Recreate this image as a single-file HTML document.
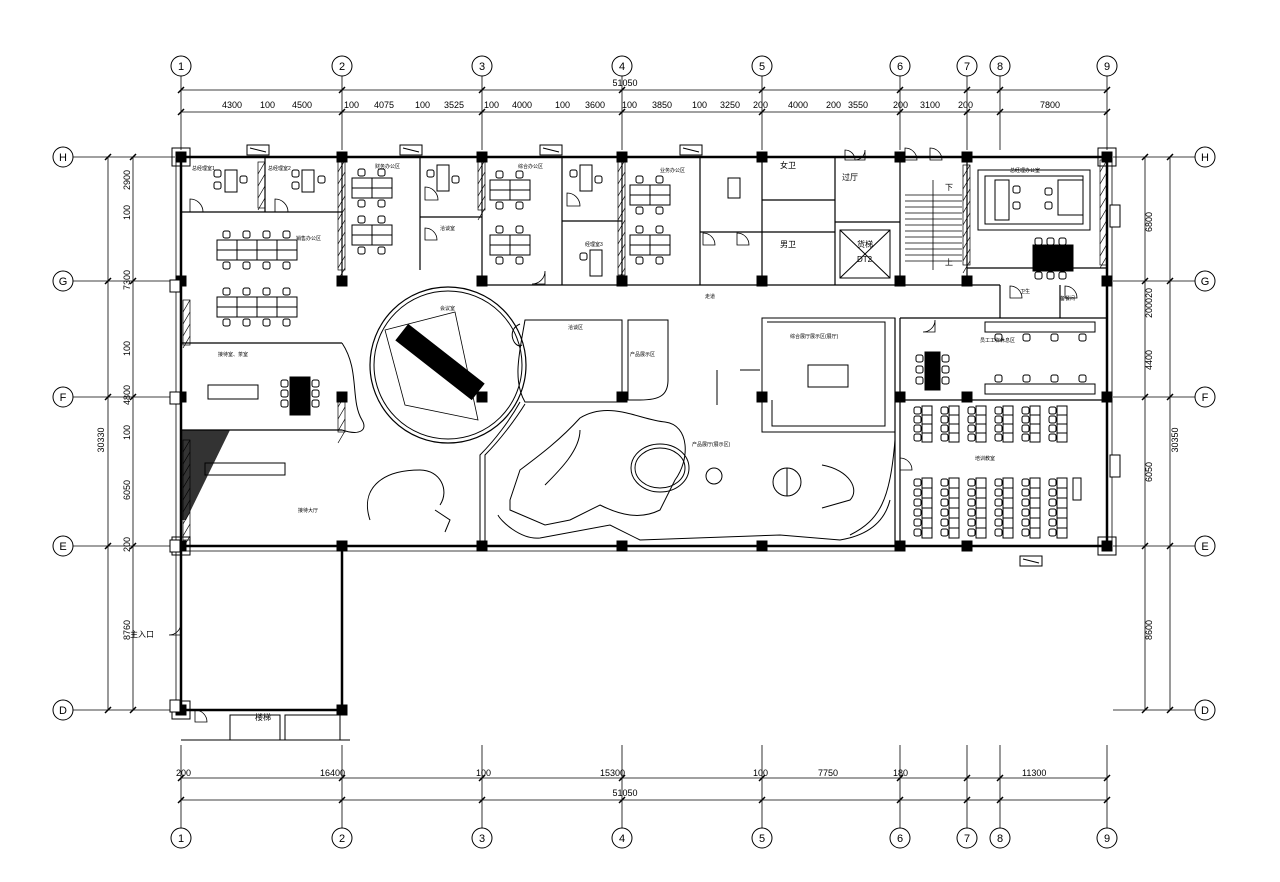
<!DOCTYPE html>
<html><head><meta charset="utf-8"><style>
html,body{margin:0;padding:0;background:#fff}
svg{display:block}
text{font-family:"Liberation Sans","Noto Sans CJK SC",sans-serif;fill:#000}
</style></head><body>
<svg id="s" width="1280" height="882" viewBox="0 0 1280 882" xmlns="http://www.w3.org/2000/svg" stroke="#000" fill="none" stroke-width="1">
<g stroke-width="0.8">
<line x1="181" y1="90" x2="1107" y2="90"/>
<line x1="181" y1="112" x2="1107" y2="112"/>
<line x1="181" y1="778" x2="1107" y2="778"/>
<line x1="181" y1="800" x2="1107" y2="800"/>
<line x1="108" y1="157" x2="108" y2="710"/>
<line x1="133" y1="157" x2="133" y2="710"/>
<line x1="1145" y1="157" x2="1145" y2="710"/>
<line x1="1170" y1="157" x2="1170" y2="710"/>
</g>
<g font-size="9" stroke="none">
<text x="625" y="86" text-anchor="middle">51050</text>
<text x="625" y="796" text-anchor="middle">51050</text>
<text x="222" y="108">4300</text><text x="260" y="108">100</text><text x="292" y="108">4500</text><text x="344" y="108">100</text>
<text x="374" y="108">4075</text><text x="415" y="108">100</text><text x="444" y="108">3525</text><text x="484" y="108">100</text>
<text x="512" y="108">4000</text><text x="555" y="108">100</text><text x="585" y="108">3600</text><text x="622" y="108">100</text>
<text x="652" y="108">3850</text><text x="692" y="108">100</text><text x="720" y="108">3250</text><text x="753" y="108">200</text>
<text x="788" y="108">4000</text><text x="826" y="108">200</text><text x="848" y="108">3550</text><text x="893" y="108">200</text>
<text x="920" y="108">3100</text><text x="958" y="108">200</text><text x="1040" y="108">7800</text>
<text x="176" y="776">200</text><text x="320" y="776">16400</text><text x="476" y="776">100</text><text x="600" y="776">15300</text>
<text x="753" y="776">100</text><text x="818" y="776">7750</text><text x="893" y="776">180</text><text x="1022" y="776">11300</text>
</g>
<g font-size="9" stroke="none">
<text transform="translate(104,440) rotate(-90)" text-anchor="middle">30330</text>
<text transform="translate(130,190) rotate(-90)">2900</text>
<text transform="translate(130,220) rotate(-90)">100</text>
<text transform="translate(130,290) rotate(-90)">7300</text>
<text transform="translate(130,356) rotate(-90)">100</text>
<text transform="translate(130,405) rotate(-90)">4800</text>
<text transform="translate(130,440) rotate(-90)">100</text>
<text transform="translate(130,500) rotate(-90)">6050</text>
<text transform="translate(130,552) rotate(-90)">200</text>
<text transform="translate(130,640) rotate(-90)">8760</text>
<text transform="translate(1178,440) rotate(-90)" text-anchor="middle">30350</text>
<text transform="translate(1152,232) rotate(-90)">6800</text>
<text transform="translate(1152,318) rotate(-90)">200020</text>
<text transform="translate(1152,370) rotate(-90)">4400</text>
<text transform="translate(1152,482) rotate(-90)">6050</text>
<text transform="translate(1152,640) rotate(-90)">8600</text>
</g>

<g stroke-width="2.5">
<polyline points="181,157 1107,157 1107,546 181,546 181,157"/>
<polyline points="181,546 181,710 342,710 342,546"/>
</g>
<line x1="181" y1="551" x2="900" y2="551" stroke-width="0.8"/>
<line x1="176" y1="157" x2="176" y2="710" stroke-width="0.8"/>
<line x1="1112" y1="157" x2="1112" y2="546" stroke-width="0.8"/>
<g stroke-width="1.2">
<line x1="181" y1="212" x2="342" y2="212"/>
<line x1="181" y1="343" x2="342" y2="343"/>
<line x1="181" y1="430" x2="342" y2="430"/>
<line x1="342" y1="157" x2="342" y2="285"/>
<line x1="265" y1="157" x2="265" y2="212"/>
<line x1="482" y1="157" x2="482" y2="285"/>
<line x1="420" y1="157" x2="420" y2="270"/>
<line x1="420" y1="217" x2="482" y2="217"/>
<line x1="562" y1="157" x2="562" y2="285"/>
<line x1="622" y1="157" x2="622" y2="285"/>
<line x1="562" y1="221" x2="622" y2="221"/>
<line x1="700" y1="157" x2="700" y2="285"/>
<line x1="762" y1="157" x2="762" y2="285"/>
<line x1="700" y1="232" x2="762" y2="232"/>
<line x1="835" y1="157" x2="835" y2="285"/>
<line x1="900" y1="157" x2="900" y2="285"/>
<line x1="762" y1="200" x2="835" y2="200"/>
<line x1="762" y1="232" x2="835" y2="232"/>
<line x1="835" y1="222" x2="900" y2="222"/>
<line x1="967" y1="157" x2="967" y2="285"/>
<line x1="482" y1="285" x2="1000" y2="285"/>
<line x1="1000" y1="285" x2="1000" y2="318"/>
<line x1="900" y1="318" x2="1107" y2="318"/>
<line x1="900" y1="318" x2="900" y2="546"/>
<line x1="895" y1="318" x2="895" y2="546"/>
<line x1="900" y1="400" x2="1107" y2="400"/>
<line x1="1060" y1="285" x2="1060" y2="318"/>
<line x1="967" y1="268" x2="1107" y2="268"/>
</g>
<!-- partition hatching -->
<g stroke-width="0.7" id="hatch"></g>
<!-- round room -->
<circle cx="448" cy="365" r="78" stroke-width="1.2"/>
<circle cx="448" cy="365" r="74"/>
<polygon points="385,330 455,312 478,420 405,405" stroke-width="0.8"/>
<rect x="392" y="352" width="96" height="20" fill="#000" transform="rotate(38 440 362)"/>
<!-- reception left curve -->
<path d="M342,343 C360,370 350,400 362,420 C368,430 360,436 342,430" stroke-width="1"/>
<!-- exhibition -->
<g stroke-width="1">
<path d="M525,320 L622,320 L622,402 L525,402 C512,380 520,350 525,320 Z"/>
<path d="M520,324 C505,330 515,350 522,345"/>
<path d="M628,320 L668,320 L668,380 C668,395 660,400 640,400 L628,400 Z"/>
<path d="M762,318 L895,318 L895,432 L762,432 Z"/>
<path d="M767,322 L885,322 L885,426 L772,426 L772,400"/>
<rect x="808" y="365" width="40" height="22"/>
<path d="M485,546 L485,455 C500,440 515,420 525,404"/>
<path d="M480,546 L480,455 C495,440 510,420 520,402"/>
<path d="M895,440 C890,500 880,520 850,535"/>
<path d="M498,515 C500,520 520,540 540,538 L610,525 L640,540 L780,535 L840,540 C870,535 885,520 890,500"/>
<path d="M510,500 L520,470 C540,455 560,440 580,418 C610,400 640,420 665,422 C690,425 690,460 675,480 L660,510 C640,520 620,515 600,505 L570,520 L545,525 L510,510 Z"/>
<path d="M545,485 C560,470 580,450 580,430"/>
<ellipse cx="660" cy="468" rx="25" ry="20"/>
<ellipse cx="660" cy="468" rx="29" ry="24"/>
<circle cx="714" cy="476" r="8"/>
<circle cx="787" cy="482" r="14"/><line x1="787" y1="468" x2="787" y2="496"/>
<path d="M822,465 C850,470 860,490 850,500 L822,508"/>
<path d="M370,520 C360,490 380,470 420,470 C440,470 450,490 440,505"/>
<path d="M435,510 L450,520 L445,532"/>
<line x1="717" y1="370" x2="717" y2="405"/>
<line x1="740" y1="370" x2="760" y2="370"/>
</g>
<!-- door arcs -->
<g stroke-width="0.8" id="doors"></g>
<!-- stairs & elevator -->
<g stroke-width="0.8" id="stairs"></g>
<rect x="840" y="230" width="50" height="48"/>
<line x1="840" y1="230" x2="890" y2="278"/><line x1="890" y1="230" x2="840" y2="278"/>
<rect x="230" y="715" width="50" height="25"/>
<rect x="285" y="715" width="55" height="25"/>
<line x1="181" y1="740" x2="350" y2="740"/>
<polygon points="181,430 230,430 186,520 181,520" fill="#000" stroke="none" opacity="0.8"/>
<rect x="205" y="463" width="80" height="12"/>
<g id="gen"></g>
<g font-size="5" stroke="none">
<text x="192" y="170">总经理室1</text><text x="268" y="170">总经理室2</text>
<text x="375" y="168">财务办公区</text><text x="518" y="168">综合办公区</text><text x="660" y="172">业务办公区</text>
<text x="296" y="240">销售办公区</text><text x="440" y="230">洽谈室</text><text x="585" y="246">经理室3</text>
<text x="218" y="356">接待室、茶室</text><text x="440" y="310">会议室</text><text x="568" y="329">洽谈区</text>
<text x="630" y="356">产品展示区</text><text x="790" y="338">综合展厅展示区(展厅)</text>
<text x="705" y="298">走道</text><text x="298" y="512">接待大厅</text><text x="692" y="446">产品展厅(展示区)</text>
<text x="980" y="342">员工工作休息区</text><text x="975" y="460">培训教室</text><text x="1010" y="172">总经理办公室</text>
<text x="1060" y="300">备餐间</text><text x="1020" y="293">卫生</text>
</g>
<g font-size="8" stroke="none">
<text x="842" y="180">过厅</text><text x="780" y="168">女卫</text><text x="780" y="247">男卫</text>
<text x="857" y="247">货梯</text><text x="857" y="262">DT2</text>
<text x="130" y="637">主入口</text><text x="945" y="190">下</text><text x="945" y="265">上</text>
<text x="255" y="720">楼梯</text>
</g>
<g id="bub" font-size="11" stroke="none"></g>
<g id="cols"></g>
</svg>
<script>
var NS="http://www.w3.org/2000/svg";
function el(p,t,a,txt){var e=document.createElementNS(NS,t);for(var k in a)e.setAttribute(k,a[k]);if(txt)e.textContent=txt;document.getElementById(p).appendChild(e);return e;}
var X=[181,342,482,622,762,900,967,1000,1107],XL=["1","2","3","4","5","6","7","8","9"];
var Y=[157,281,397,546,710],YL=["H","G","F","E","D"];
X.forEach(function(x,i){
 [66,838].forEach(function(y){el("bub","circle",{cx:x,cy:y,r:10,fill:"#fff",stroke:"#000"});el("bub","text",{x:x,y:y+4,"text-anchor":"middle"},XL[i]);});
 el("bub","line",{x1:x,y1:76,x2:x,y2:150,stroke:"#000","stroke-width":0.8});
 el("bub","line",{x1:x,y1:745,x2:x,y2:828,stroke:"#000","stroke-width":0.8});
 [90,112,778,800].forEach(function(y){el("bub","line",{x1:x-3,y1:y+3,x2:x+3,y2:y-3,stroke:"#000","stroke-width":1.5});});
});
Y.forEach(function(y,i){
 [63,1205].forEach(function(x){el("bub","circle",{cx:x,cy:y,r:10,fill:"#fff",stroke:"#000"});el("bub","text",{x:x,y:y+4,"text-anchor":"middle"},YL[i]);});
 el("bub","line",{x1:73,y1:y,x2:175,y2:y,stroke:"#000","stroke-width":0.8});
 el("bub","line",{x1:1113,y1:y,x2:1195,y2:y,stroke:"#000","stroke-width":0.8});
 [108,133,1145,1170].forEach(function(x){el("bub","line",{x1:x-3,y1:y+3,x2:x+3,y2:y-3,stroke:"#000","stroke-width":1.5});});
});
var C=[[181,157],[342,157],[482,157],[622,157],[762,157],[900,157],[967,157],[1107,157],
[181,281],[342,281],[482,281],[622,281],[762,281],[900,281],[967,281],[1107,281],
[181,397],[342,397],[482,397],[622,397],[762,397],[900,397],[967,397],[1107,397],
[181,546],[342,546],[482,546],[622,546],[762,546],[900,546],[967,546],[1107,546],[181,710],[342,710]];
C.forEach(function(c){el("cols","rect",{x:c[0]-5,y:c[1]-5,width:10,height:10,fill:"#000"});});
[[181,157],[1107,157],[181,546],[181,710],[1107,546]].forEach(function(c){el("cols","rect",{x:c[0]-9,y:c[1]-9,width:18,height:18,fill:"none",stroke:"#000"});});
// windows on top wall
[[247,145],[400,145],[540,145],[680,145],[1020,556]].forEach(function(w){el("cols","rect",{x:w[0],y:w[1],width:22,height:10,fill:"#fff",stroke:"#000"});el("cols","line",{x1:w[0]+3,y1:w[1]+3,x2:w[0]+19,y2:w[1]+7,stroke:"#000"});});
[[1110,205],[1110,455]].forEach(function(w){el("cols","rect",{x:w[0],y:w[1],width:10,height:22,fill:"#fff",stroke:"#000"});});
[[170,280],[170,392],[170,540],[170,700]].forEach(function(w){el("cols","rect",{x:w[0],y:w[1],width:10,height:12,fill:"#fff",stroke:"#000"});});
// hatched partitions
function hatch(x,y1,y2){el("hatch","rect",{x:x,y:y1,width:7,height:y2-y1,fill:"none",stroke:"#000"});for(var y=y1;y<y2;y+=12){el("hatch","line",{x1:x,y1:y+12,x2:x+7,y2:y,stroke:"#000"});}}
hatch(338,160,270);hatch(478,160,210);hatch(618,160,275);hatch(258,162,208);hatch(183,300,345);hatch(963,165,265);hatch(1100,160,265);hatch(183,440,540);hatch(338,395,432);
// doors
function door(x,y,r,a){var s=a==0?"M"+x+","+(y-r)+" A"+r+","+r+" 0 0,1 "+(x+r)+","+y+" L"+x+","+y+" Z":"M"+(x-r)+","+y+" A"+r+","+r+" 0 0,0 "+x+","+(y-r)+" L"+x+","+y+" Z";el("doors","path",{d:s,stroke:"#000",fill:"none"});}
door(190,212,13,0);door(275,212,13,0);door(425,200,13,0);door(425,240,12,0);door(567,206,13,0);door(545,284,13,1);door(703,245,12,0);door(737,245,12,0);door(1010,298,12,0);door(1065,298,12,0);door(935,332,12,1);door(900,470,12,0);door(845,160,10,0);door(865,160,10,1);door(905,160,12,0);door(930,160,12,0);door(181,635,12,1);door(195,722,12,0);
// stairs
for(var i=0;i<12;i++){el("stairs","line",{x1:905,y1:195+i*6,x2:962,y2:195+i*6});}
el("stairs","line",{x1:933,y1:180,x2:933,y2:270});
function desk(x,y,w,h){el("gen","rect",{x:x,y:y,width:w,height:h,stroke:"#000",fill:"#fff"});}
function chair(x,y){el("gen","rect",{x:x,y:y,width:7,height:7,rx:2,stroke:"#000",fill:"none"});}
function group(x,y,n){for(var i=0;i<n;i++){desk(x+i*20,y,20,10);desk(x+i*20,y+10,20,10);chair(x+6+i*20,y-9);chair(x+6+i*20,y+22);}}
group(217,240,4);group(217,297,4);group(352,178,2);group(352,225,2);group(490,180,2);group(490,235,2);group(630,185,2);group(630,235,2);
desk(225,170,12,22);desk(302,170,12,22);desk(437,165,12,26);desk(580,165,12,26);desk(590,250,12,26);desk(728,178,12,20);
chair(214,170);chair(214,182);chair(240,176);chair(292,170);chair(292,182);chair(318,176);chair(427,170);chair(452,176);chair(570,170);chair(595,176);chair(580,253);
desk(208,385,50,14);el("gen","rect",{x:290,y:377,width:20,height:38,fill:"#000"});
chair(281,380);chair(281,390);chair(281,400);chair(312,380);chair(312,390);chair(312,400);
el("gen","rect",{x:1033,y:245,width:40,height:26,fill:"#000"});el("gen","rect",{x:925,y:352,width:15,height:38,fill:"#000"});
chair(1035,238);chair(1047,238);chair(1059,238);chair(1035,272);chair(1047,272);chair(1059,272);
chair(916,355);chair(916,366);chair(916,377);chair(942,355);chair(942,366);chair(942,377);
el("gen","rect",{x:978,y:170,width:112,height:60,stroke:"#000",fill:"none"});el("gen","rect",{x:985,y:176,width:98,height:48,stroke:"#000",fill:"none"});
desk(995,180,14,40);desk(1058,180,25,35);chair(1013,186);chair(1013,202);chair(1045,188);chair(1045,202);
el("gen","rect",{x:985,y:322,width:110,height:10,stroke:"#000",fill:"none"});el("gen","rect",{x:985,y:384,width:110,height:10,stroke:"#000",fill:"none"});
for(var k=0;k<4;k++){chair(995+k*28,334);chair(995+k*28,375);}
for(var c=0;c<6;c++){for(var r=0;r<4;r++){desk(922+c*27,406+r*9,10,9);chair(914+c*27,407+r*9);}
 for(var r=0;r<6;r++){desk(922+c*27,478+r*10,10,10);chair(914+c*27,479+r*10);}}
desk(1073,478,8,22);
</script>
</body></html>
